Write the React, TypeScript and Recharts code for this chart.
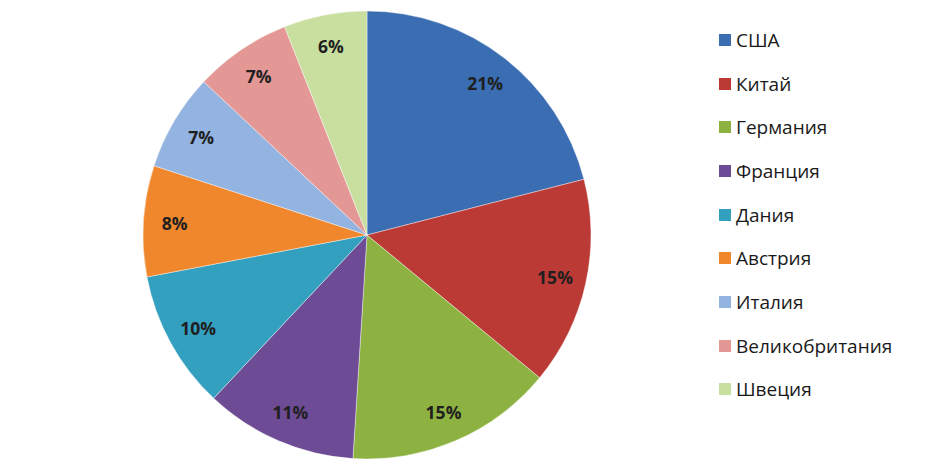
import { Cell, Legend, Pie, PieChart } from "recharts";

const countries = [
  "США",
  "Китай",
  "Германия",
  "Франция",
  "Дания",
  "Австрия",
  "Италия",
  "Великобритания",
  "Швеция",
];
const shares = [21, 15, 15, 11, 10, 8, 7, 7, 6];
const colors = [
  "#3b6db3",
  "#bc3a35",
  "#8db241",
  "#6e4b95",
  "#33a0bf",
  "#f0872c",
  "#93b3e0",
  "#e49896",
  "#c8df9f",
];

const data = countries.map((name, i) => ({ name, value: shares[i] }));
const RAD = Math.PI / 180;

function SliceLabel(props: any) {
  const { cx, cy, midAngle, outerRadius, value } = props;
  const r = outerRadius * 0.86;
  const x = cx + r * Math.cos(-midAngle * RAD);
  const y = cy + r * Math.sin(-midAngle * RAD);
  return (
    <text
      x={x}
      y={y}
      textAnchor="middle"
      dominantBaseline="central"
      fill="#1f1f1f"
      fontSize={17.5}
      fontWeight="bold"
      fontFamily="'Open Sans', sans-serif"
    >
      {value}%
    </text>
  );
}

// own legend so the order follows the data, not alphabetical
function LegendList() {
  return (
    <ul style={{ listStyle: "none", margin: 0, padding: 0 }}>
      {countries.map((name, i) => (
        <li
          key={name}
          style={{
            display: "flex",
            alignItems: "center",
            height: 43.7,
            fontFamily: "'Open Sans', sans-serif",
            fontSize: 19,
            color: "#1a1a1a",
          }}
        >
          <span
            style={{
              width: 12,
              height: 12,
              background: colors[i],
              marginRight: 5,
              display: "inline-block",
            }}
          />
          {name}
        </li>
      ))}
    </ul>
  );
}

export default function App() {
  return (
    <div style={{ position: "absolute", left: 0, top: 0, background: "#fff" }}>
      <PieChart
        width={944}
        height={466}
        margin={{ top: 0, right: 0, bottom: 0, left: 0 }}
      >
        <Pie
          data={data}
          dataKey="value"
          nameKey="name"
          cx={367}
          cy={235}
          outerRadius={224}
          startAngle={90}
          endAngle={-270}
          stroke="#ffffff"
          strokeOpacity={0.4}
          strokeWidth={1}
          label={SliceLabel}
          labelLine={false}
          isAnimationActive={false}
        >
          {data.map((d, i) => (
            <Cell key={d.name} fill={colors[i]} />
          ))}
        </Pie>
        <Legend
          layout="vertical"
          align="right"
          verticalAlign="top"
          content={LegendList}
          wrapperStyle={{ left: 719, top: 18, width: 220 }}
        />
      </PieChart>
    </div>
  );
}
